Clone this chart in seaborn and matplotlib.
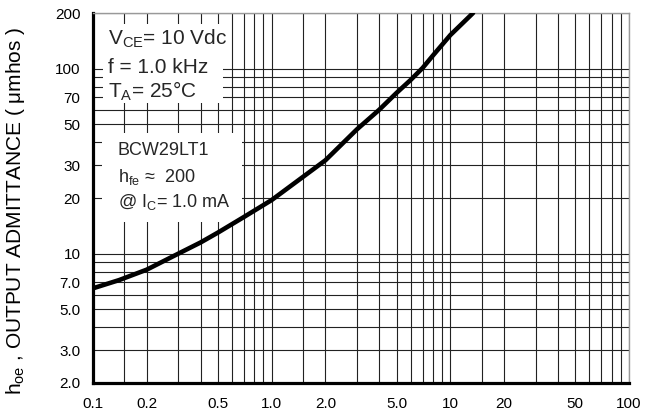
import numpy as np
import matplotlib
matplotlib.use("Agg")
import matplotlib.pyplot as plt
import seaborn as sns
from matplotlib.patches import Rectangle
from matplotlib.ticker import FixedLocator, FixedFormatter, NullFormatter

# curve (collector current in mA, hoe in umhos)
ic_ma = [0.1, 0.14, 0.2, 0.3, 0.4, 0.5, 0.7, 1.0, 2.0, 3.0, 4.0, 5.0, 6.0, 7.0, 8.0, 10.0, 13.4]
hoe = [6.5, 7.2, 8.2, 10.0, 11.5, 13.0, 15.8, 19.5, 32.0, 47.0, 60.0, 74.0, 87.0, 101.0, 118.0, 152.0, 200.0]

x_major = [0.1, 0.2, 0.5, 1.0, 2.0, 5.0, 10, 20, 50, 100]
x_labels = ["0.1", "0.2", "0.5", "1.0", "2.0", "5.0", "10", "20", "50", "100"]
x_minor = [0.15, 0.3, 0.4, 0.6, 0.7, 0.8, 0.9,
           1.5, 3, 4, 6, 7, 8, 9,
           15, 30, 40, 60, 70, 80, 90]

y_major = [2, 3, 5, 7, 10, 20, 30, 50, 70, 100, 200]
y_labels = ["2.0", "3.0", "5.0", "7.0", "10", "20", "30", "50", "70", "100", "200"]
y_minor = [4, 6, 8, 9, 40, 60, 80, 90]

sns.set_theme(style="white")
plt.rcParams["font.family"] = ["Liberation Sans", "DejaVu Sans"]
plt.rcParams["mathtext.fontset"] = "custom"
plt.rcParams["mathtext.rm"] = "Liberation Sans"
plt.rcParams["mathtext.it"] = "Liberation Sans:italic"

fig = plt.figure(figsize=(6.45, 4.12), dpi=100)
ax = fig.add_axes([0.1442, 0.0704, 0.8310, 0.8980])

ax.set_xscale("log")
ax.set_yscale("log")
ax.set_xlim(0.1, 100)
ax.set_ylim(2, 200)

ax.xaxis.set_major_locator(FixedLocator(x_major))
ax.xaxis.set_major_formatter(FixedFormatter(x_labels))
ax.xaxis.set_minor_locator(FixedLocator(x_minor))
ax.xaxis.set_minor_formatter(NullFormatter())
ax.yaxis.set_major_locator(FixedLocator(y_major))
ax.yaxis.set_major_formatter(FixedFormatter(y_labels))
ax.yaxis.set_minor_locator(FixedLocator(y_minor))
ax.yaxis.set_minor_formatter(NullFormatter())

ax.grid(True, which="both", color="#222222", linewidth=0.8)
ax.set_axisbelow(True)
ax.tick_params(which="both", length=0, labelsize=11, colors="black")
ax.tick_params(axis="x", pad=10)
ax.tick_params(axis="y", pad=9)

for side in ["left", "bottom"]:
    ax.spines[side].set_color("black")
    ax.spines[side].set_linewidth(2.3)
for side in ["top", "right"]:
    ax.spines[side].set_color("#999999")
    ax.spines[side].set_linewidth(1.0)

# white boxes hiding the grid behind the notes
ax.add_patch(Rectangle((0.0187, 0.757), 0.2238, 0.213, transform=ax.transAxes,
                       facecolor="white", edgecolor="none", zorder=2))
ax.add_patch(Rectangle((0.0168, 0.435), 0.2612, 0.241, transform=ax.transAxes,
                       facecolor="white", edgecolor="none", zorder=2))

sns.lineplot(x=ic_ma, y=hoe, ax=ax, color="black", linewidth=3.3,
             solid_capstyle="round", zorder=3)

ax.text(0.028, 0.9135, r"V$_{\mathrm{CE}}$= 10 Vdc", transform=ax.transAxes,
        fontsize=15, va="baseline", ha="left", zorder=4)
ax.text(0.028, 0.8378, "f = 1.0 kHz", transform=ax.transAxes,
        fontsize=15, va="baseline", ha="left", zorder=4)
ax.text(0.028, 0.7703, r"T$_{\mathrm{A}}$= 25°C", transform=ax.transAxes,
        fontsize=15, va="baseline", ha="left", zorder=4)

ax.text(0.0466, 0.6162, "BCW29LT1", transform=ax.transAxes,
        fontsize=13, va="baseline", ha="left", zorder=4)
ax.text(0.0466, 0.5441, r"h$_{\mathrm{fe}}$ ≈  200", transform=ax.transAxes,
        fontsize=13, va="baseline", ha="left", zorder=4)
ax.text(0.0466, 0.4757, r"@ I$_{\mathrm{C}}$= 1.0 mA", transform=ax.transAxes,
        fontsize=13, va="baseline", ha="left", zorder=4)

ax.set_xlabel("")
ax.set_ylabel(r"h$_{\mathrm{oe}}$ , OUTPUT ADMITTANCE ( μmhos )", fontsize=15, color="black")
ax.yaxis.set_label_coords(-0.123, 0.465)

fig.savefig("out.png", dpi=100)
